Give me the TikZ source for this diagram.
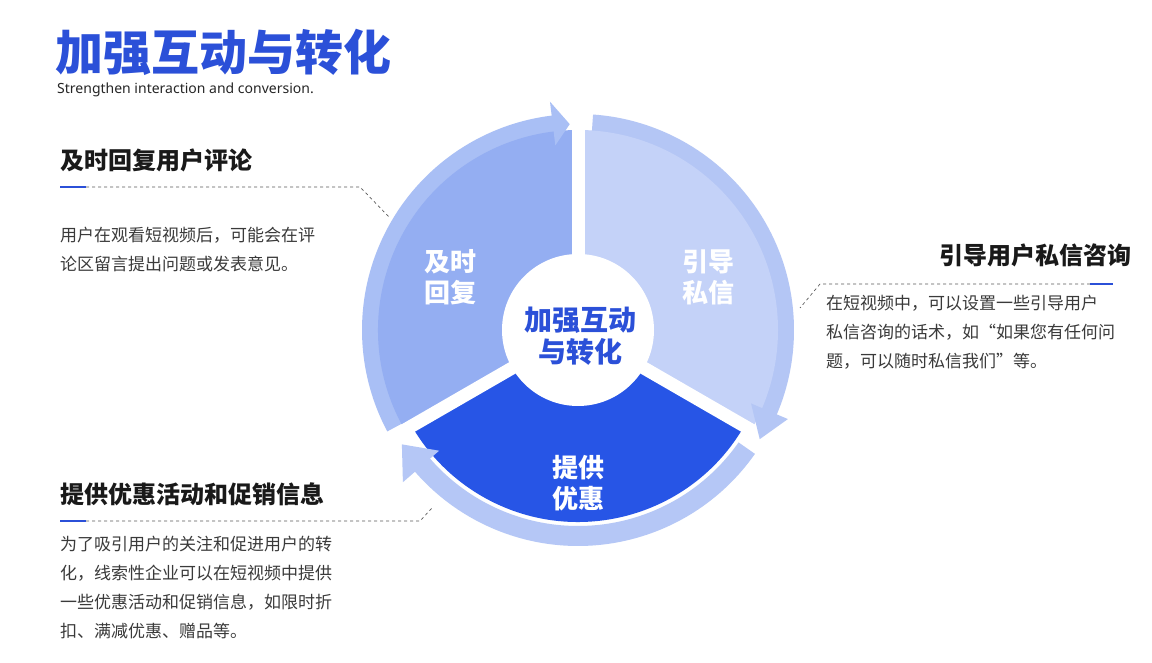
\documentclass[tikz,border=0pt]{standalone}
\usepackage{fontspec}
\setmainfont{Noto Sans}
\newfontfamily\cjk{Noto Sans CJK SC}
\definecolor{tblue}{HTML}{2B50D8}
\definecolor{wA}{HTML}{94AEF2}
\definecolor{wAb}{HTML}{A9BFF5}
\definecolor{wB}{HTML}{C4D2F8}
\definecolor{wBb}{HTML}{B4C6F5}
\definecolor{wC}{HTML}{2755E6}
\definecolor{wCb}{HTML}{B5C7F6}
\definecolor{bodyc}{HTML}{3A3A3A}
\tikzset{
 head/.style={font=\cjk\bfseries\fontsize{24}{27}\selectfont, text=black!90, anchor=west, inner sep=0},
 body/.style={font=\cjk\fontsize{17}{29}\selectfont, text=bodyc, anchor=north west, align=left, inner sep=0},
 ul/.style={tblue, line width=2pt},
 dl/.style={gray!70!black, dashed, line width=0.7pt},
 wl/.style={font=\cjk\bfseries\fontsize{26}{31}\selectfont, text=white, align=center},
}
\begin{document}
\begin{tikzpicture}[x=1pt,y=1pt]
\useasboundingbox (0,0) rectangle (1152,663);
\fill[white] (0,0) rectangle (1152,663);
\coordinate (c) at (578,333);
% outer bands
\fill[wAb] ([shift={(c)}]208:196) arc[start angle=208,end angle=96,radius=196] -- ([shift={(c)}]96:216) arc[start angle=96,end angle=208,radius=216] -- cycle;
\fill[wBb] ([shift={(c)}]86:196) arc[start angle=86,end angle=-24,radius=196] -- ([shift={(c)}]-24:216) arc[start angle=-24,end angle=86,radius=216] -- cycle;
\fill[wCb] ([shift={(c)}]-35:196) arc[start angle=-35,end angle=-140,radius=196] -- ([shift={(c)}]-140:216) arc[start angle=-140,end angle=-35,radius=216] -- cycle;
% sectors
\fill[wA] (c) -- ([shift={(c)}]210:200) arc[start angle=210,end angle=90,radius=200] -- cycle;
\fill[wB] (c) -- ([shift={(c)}]90:200) arc[start angle=90,end angle=-30,radius=200] -- cycle;
\fill[wC] (c) -- ([shift={(c)}]-30:192) arc[start angle=-30,end angle=-150,radius=192] -- cycle;
% gaps
\foreach \a in {90,-30,210} \draw[white, line width=13pt] (c) -- ++(\a:240);
% arrow heads
\fill[wAb] ([shift={(c)}]97:186) -- ([shift={(c)}]97:230) -- ([shift={(c)}]92.3:206) -- cycle;
\fill[wBb] ([shift={(c)}]-23:188) -- ([shift={(c)}]-23:228) -- ([shift={(c)}]-31:212) -- cycle;
\fill[wCb] ([shift={(c)}]-139:184) -- ([shift={(c)}]-139:232) -- ([shift={(c)}]-147:210) -- cycle;
\node[circle, fill=white, minimum size=152pt, inner sep=0] (mid) at (c) {};
\node[font=\cjk\bfseries\fontsize{28}{32}\selectfont, text=tblue, align=center] (midt) at (580,327) {加强互动\\与转化};
\node[wl] (w1) at (450,386) {及时\\回复};
\node[wl] (w2) at (708,386) {引导\\私信};
\node[wl] (w3) at (578,180) {提供\\优惠};
% title
\node[font=\cjk\bfseries\fontsize{48}{52}\selectfont, text=tblue, anchor=west, inner sep=0] (title) at (55,611) {加强互动与转化};
\node[font=\fontsize{14}{16}\selectfont, text=black!85, anchor=west, inner sep=0] (sub) at (57,573) {Strengthen interaction and conversion.};
% left top
\node[head] (h1) at (60,503) {及时回复用户评论};
\draw[ul] (60,476) -- (86,476);
\coordinate (d1) at (390,445);
\draw[dl] (86,476) -- (360,476) -- (d1);
\node[body] (b1) at (60,436) {用户在观看短视频后，可能会在评\\论区留言提出问题或发表意见。};
% right
\node[head, anchor=east] (h2) at (1132,408) {引导用户私信咨询};
\draw[ul] (1090,379) -- (1113,379);
\coordinate (d2) at (800,355);
\draw[dl] (1090,379) -- (820,379) -- (d2);
\node[body] (b2) at (826,368) {在短视频中，可以设置一些引导用户\\私信咨询的话术，如“如果您有任何问\\题，可以随时私信我们”等。};
% bottom left
\node[head] (h3) at (60,169) {提供优惠活动和促销信息};
\draw[ul] (60,142) -- (86,142);
\coordinate (d3) at (432,155);
\draw[dl] (86,142) -- (420,142) -- (d3);
\node[body] (b3) at (60,127) {为了吸引用户的关注和促进用户的转\\化，线索性企业可以在短视频中提供\\一些优惠活动和促销信息，如限时折\\扣、满减优惠、赠品等。};
\end{tikzpicture}
\end{document}
